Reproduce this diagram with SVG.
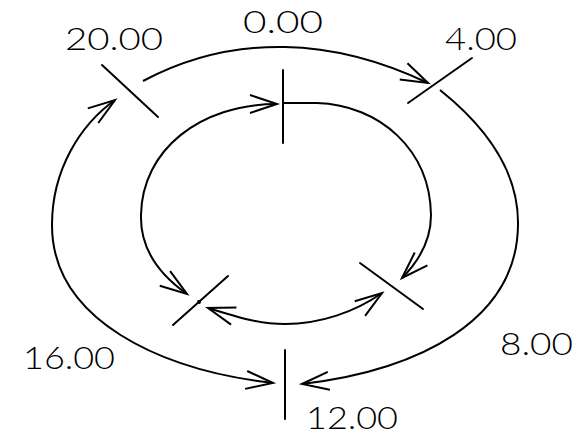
<svg xmlns="http://www.w3.org/2000/svg" width="582" height="436" viewBox="0 0 582 436">
<defs>
<style>
.tick{stroke:#000;stroke-width:2;fill:none;stroke-linecap:round}
.arc{stroke:#000;stroke-width:2;fill:none}
.lbl{font-family:Lato,"Liberation Sans",sans-serif;font-weight:300;font-size:31px;fill:#000}
</style>
<marker id="ah" viewBox="-30 -12 34 24" refX="0" refY="0" markerWidth="34" markerHeight="24" markerUnits="userSpaceOnUse" orient="auto-start-reverse">
<path d="M-27,-9 L0,0 L-27,9" fill="none" stroke="#000" stroke-width="2"/>
</marker>
</defs>
<rect width="582" height="436" fill="#fff"/>
<g id="connectors">
<path class="arc" d="M143,81 C190,56 240,46 285,47 C340,48 390,65 428,83" marker-end="url(#ah)"/>
<path class="arc" d="M440,90 C490,130 519,175 518,225 C517,320 420,370 302,384" marker-end="url(#ah)"/>
<path class="arc" d="M115,100 C80,125 52,170 52,225 C52,320 160,370 273,383" marker-start="url(#ah)" marker-end="url(#ah)"/>
<path class="arc" d="M277,104 C200,104 142,150 141,215 C140,250 160,275 187,294" marker-start="url(#ah)" marker-end="url(#ah)"/>
<path class="arc" d="M283,103 L317,103 C380,105 430,150 431,215 C431,240 418,262 402,278" marker-end="url(#ah)"/>
<path class="arc" d="M208,308 C240,318 260,324 285,324 C320,324 355,312 382,293" marker-start="url(#ah)" marker-end="url(#ah)"/>
</g>
<g id="n0">
<line class="tick" x1="283" y1="70" x2="283" y2="143"/>
<text class="lbl" x="243" y="33" textLength="80" lengthAdjust="spacingAndGlyphs">0.00</text>
</g>
<g id="n4">
<line class="tick" x1="472" y1="58" x2="408" y2="103"/>
<text class="lbl" x="445" y="50" textLength="72" lengthAdjust="spacingAndGlyphs">4.00</text>
</g>
<g id="n8">
<text class="lbl" x="500" y="355" textLength="73" lengthAdjust="spacingAndGlyphs">8.00</text>
</g>
<g id="n12">
<line class="tick" x1="285" y1="350" x2="285" y2="419"/>
<text class="lbl" x="306" y="429" font-size="29" textLength="92" lengthAdjust="spacingAndGlyphs">12.00</text>
</g>
<g id="n16">
<text class="lbl" x="23" y="369" textLength="92" lengthAdjust="spacingAndGlyphs">16.00</text>
</g>
<g id="n20">
<line class="tick" x1="102" y1="65" x2="158" y2="117"/>
<text class="lbl" x="65" y="50" textLength="98" lengthAdjust="spacingAndGlyphs">20.00</text>
</g>
<g id="inner-right">
<line class="tick" x1="360" y1="263" x2="423" y2="309"/>
</g>
<g id="inner-left">
<line class="tick" x1="228" y1="276" x2="173" y2="325"/>
<circle cx="199" cy="302" r="2" fill="#000"/>
</g>
</svg>
